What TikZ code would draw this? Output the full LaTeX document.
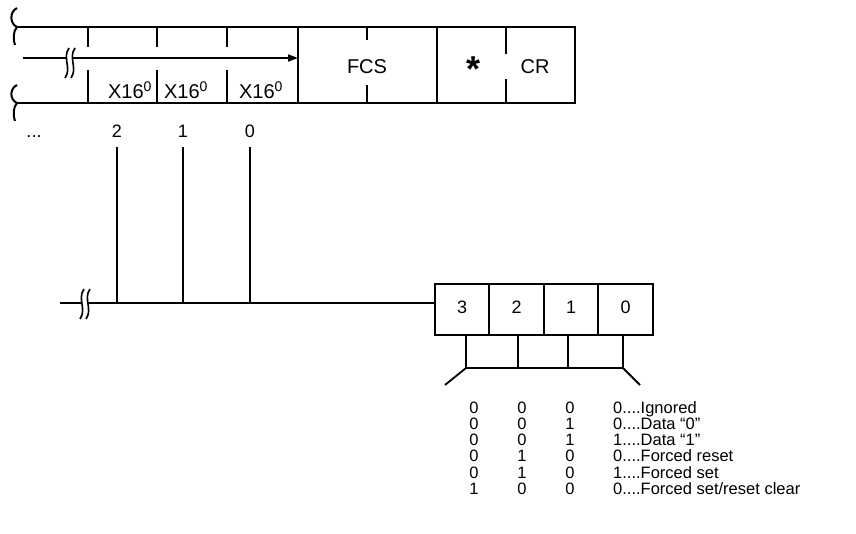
\documentclass[tikz,border=0pt]{standalone}
\usepackage{fontspec}
\setmainfont{Liberation Sans}
\usetikzlibrary{positioning,arrows.meta}

\begin{document}
\begin{tikzpicture}[x=1pt,y=-1pt]
      % styles
      \tikzstyle{frame} = [line width=2pt, black]
      \tikzstyle{wire} = [line width=1.8pt, black]
      \tikzstyle{toptext} = [inner sep=0pt, anchor=base, font=\fontsize{20}{24}\selectfont]
      \tikzstyle{midtext} = [inner sep=0pt, anchor=base, font=\fontsize{18}{22}\selectfont]
      \tikzstyle{tabtext} = [inner sep=0pt, anchor=base, font=\fontsize{16.5}{19}\selectfont]
      \tikzstyle{bitbox} = [rectangle, draw, line width=2pt, outer sep=0pt, minimum width=54.5pt, minimum height=51pt, inner sep=0pt, text height=13pt, text depth=6pt, font=\fontsize{18}{22}\selectfont]

      \useasboundingbox (0,0) rectangle (856,534);

      % frame: cut edges
      \draw[frame] (17,8) .. controls (9,12) and (10,24) .. (17,27) .. controls (13,31) and (13,40) .. (15,45);
      \draw[frame] (17,85) .. controls (9,89) and (10,100) .. (17,103) .. controls (13,107) and (13,116) .. (15,121);

      % frame: outline and fields
      \draw[frame] (18,27) -- (575,27) -- (575,103) -- (18,103);
      \draw[frame] (298,27) -- (298,103);
      \draw[frame] (437,27) -- (437,103);
      \foreach \x in {88,157,227} {
        \draw[frame] (\x,27) -- (\x,47);
        \draw[frame] (\x,70) -- (\x,103);
      }
      \draw[frame] (367,27) -- (367,40) (367,85) -- (367,103);
      \draw[frame] (506,27) -- (506,54) (506,79) -- (506,103);

      % frame: texts
      \node[toptext] (x2) at (130,99) {X16\textsuperscript{0}};
      \node[toptext] (x1) at (186,99) {X16\textsuperscript{0}};
      \node[toptext] (x0) at (261,99) {X16\textsuperscript{0}};
      \node[toptext] (fcs) at (367,74) {FCS};
      \node[inner sep=0pt, anchor=base, font=\bfseries\fontsize{36}{40}\selectfont] (star) at (473,82) {*};
      \node[toptext] (cr) at (535,74) {CR};

      % arrow through the data fields
      \coordinate (arrS) at (23,58);
      \coordinate (arrE) at (298,58);
      \draw[wire, -{Triangle[length=10pt,width=7pt]}] (arrS) -- (arrE);

      % digit numbers
      \node[midtext] (dots) at (34,138) {...};
      \node[midtext] (lbl2) at (117,138) {2};
      \node[midtext] (lbl1) at (183,138) {1};
      \node[midtext] (lbl0) at (250,138) {0};

      % bit box
      \node[bitbox] (b3) at (462,309.5) {3};
      \node[bitbox, right=0pt of b3] (b2) {2};
      \node[bitbox, right=0pt of b2] (b1) {1};
      \node[bitbox, right=0pt of b1] (b0) {0};

      % bus
      \coordinate (busL) at (60,303);
      \draw[wire] (busL) -- (busL -| b3.west);
      \foreach \n in {lbl2,lbl1,lbl0}
        \draw[wire] ([yshift=-9pt]\n.south) -- (\n.south |- busL);

      % bracket under the bit box
      \coordinate (t3) at (466,368);
      \coordinate (t2) at (518,368);
      \coordinate (t1) at (568,368);
      \coordinate (t0) at (623,368);
      \coordinate (dl) at (445,385);
      \coordinate (dr) at (640,385);
      \draw[wire] (t3 |- b3.south) -- (t3) -- (t0) -- (t0 |- b0.south);
      \draw[wire] (t2 |- b2.south) -- (t2);
      \draw[wire] (t1 |- b1.south) -- (t1);
      \draw[wire] (t3) -- (dl);
      \draw[wire] (t0) -- (dr);

      % break marks
      \foreach \bx/\by in {70/63,85/304} {
        \fill[white] ({\bx-1},{\by-15}) .. controls ({\bx-8},{\by-5}) and ({\bx+2},{\by+5}) .. ({\bx-5},{\by+15})
          -- ({\bx+1},{\by+15}) .. controls ({\bx+8},{\by+5}) and ({\bx-2},{\by-5}) .. ({\bx+5},{\by-15}) -- cycle;
        \draw[wire, line width=1.6pt] ({\bx-1},{\by-15}) .. controls ({\bx-8},{\by-5}) and ({\bx+2},{\by+5}) .. ({\bx-5},{\by+15});
        \draw[wire, line width=1.6pt] ({\bx+5},{\by-15}) .. controls ({\bx-2},{\by-5}) and ({\bx+8},{\by+5}) .. ({\bx+1},{\by+15});
      }

      % table of codes
      \foreach \a/\b/\c/\d/\txt [count=\i from 0] in {0/0/0/0/Ignored, 0/0/1/0/{Data “0”}, 0/0/1/1/{Data “1”}, 0/1/0/0/{Forced reset}, 0/1/0/1/{Forced set}, 1/0/0/0/{Forced set/reset clear}} {
        \node[tabtext] (ra\i) at (474,{413+16.3*\i}) {\a};
        \node[tabtext] (rb\i) at (522,{413+16.3*\i}) {\b};
        \node[tabtext] (rc\i) at (570,{413+16.3*\i}) {\c};
        \node[tabtext, anchor=base west] (rd\i) at (613,{413+16.3*\i}) {\d....\txt};
      }
    \end{tikzpicture}
\end{document}
